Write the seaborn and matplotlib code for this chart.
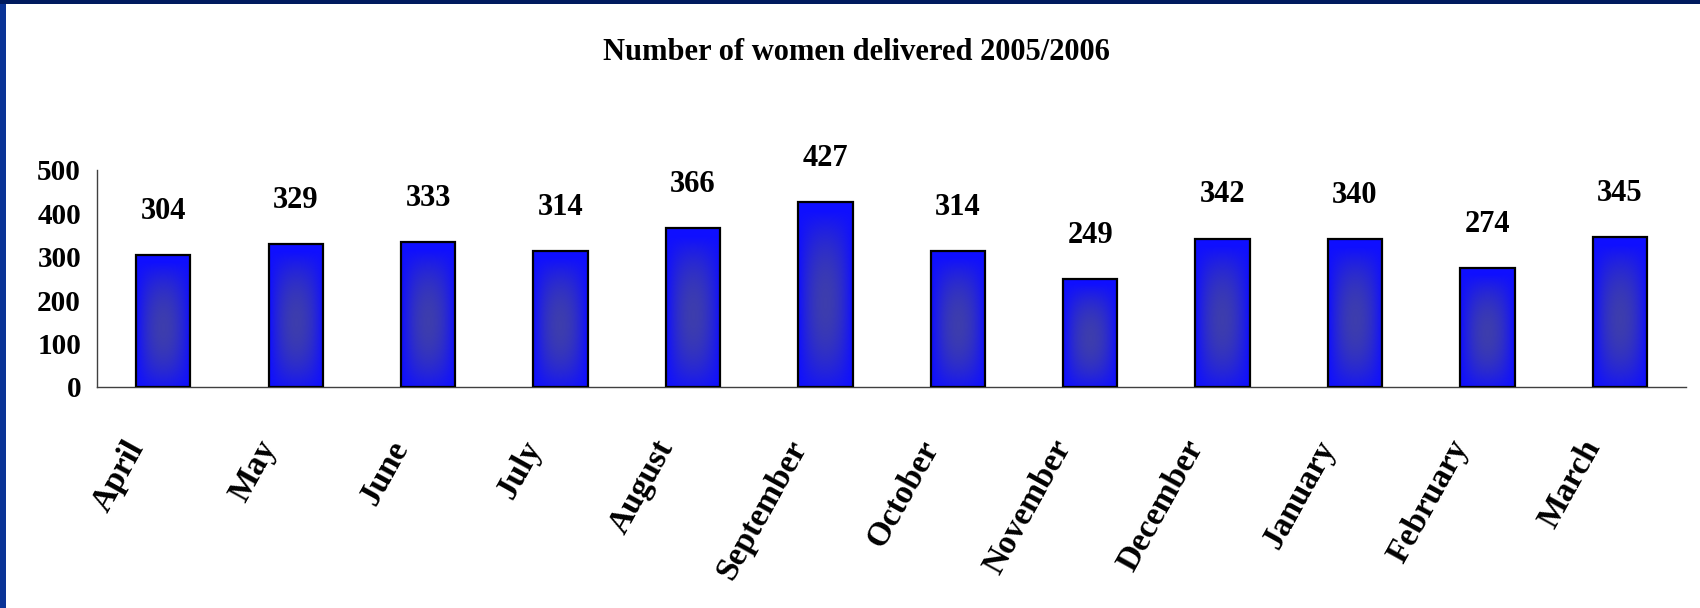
import numpy as np
import pandas as pd
import matplotlib
matplotlib.use("Agg")
import matplotlib.pyplot as plt
from matplotlib.patches import Rectangle
from matplotlib.transforms import ScaledTranslation
import seaborn as sns

months = ["April", "May", "June", "July", "August", "September",
          "October", "November", "December", "January", "February", "March"]
delivered = [304, 329, 333, 314, 366, 427, 314, 249, 342, 340, 274, 345]
y_ticks = [0, 100, 200, 300, 400, 500]
title = "Number of women delivered 2005/2006"

sns.set_style("white")
plt.rcParams['font.family'] = ['Liberation Serif', 'DejaVu Serif']
plt.rcParams['font.weight'] = 'bold'
plt.rcParams['text.color'] = 'black'
plt.rcParams['xtick.labelcolor'] = 'black'
plt.rcParams['ytick.labelcolor'] = 'black'

df = pd.DataFrame({'Month': months, 'Women': delivered})

fig = plt.figure(figsize=(17, 6.08), dpi=100, facecolor='white')
# slide frame: blue strip on the left, dark strip on top
fig.patches.append(Rectangle((0, 0), 6/1700, 1, transform=fig.transFigure,
                             facecolor='#0a3396', edgecolor='none', zorder=0))
fig.patches.append(Rectangle((0, 1-4/608), 1, 4/608, transform=fig.transFigure,
                             facecolor='#001a5e', edgecolor='none', zorder=0))

ax = fig.add_axes([0.0571, 0.3635, 0.9347, 0.3569])
sns.barplot(data=df, x='Month', y='Women', color='#1010ff', width=0.41,
            edgecolor='black', linewidth=1.6, ax=ax)

# gradient fill: bright blue at the edges, duller in the middle
gx, gy = np.meshgrid(np.linspace(-1, 1, 60), np.linspace(-1, 1, 120))
w = (1 - gx**2) * (1 - (gy + 0.1)**2)
w = np.clip(w, 0, 1)
edge_c = np.array([0.06, 0.06, 1.0])
mid_c = np.array([0.24, 0.24, 0.68])
grad = edge_c + w[..., None] * (mid_c - edge_c)
for p in list(ax.patches):
    x0, y0 = p.get_x(), p.get_y()
    bw, bh = p.get_width(), p.get_height()
    im = ax.imshow(grad, extent=(x0, x0 + bw, y0, y0 + bh), aspect='auto',
                   origin='lower', zorder=2, interpolation='bilinear')
    im.set_clip_path(p)
    p.set_facecolor('none')
    p.set_zorder(3)

for i, v in enumerate(delivered):
    ax.annotate(str(v), (i, v), xytext=(0, 21), textcoords='offset points',
                ha='center', va='bottom', fontsize=22, fontweight='bold',
                annotation_clip=False)

ax.set_xlim(-0.5, len(months) - 0.5)
ax.set_ylim(0, 500)
ax.set_yticks(y_ticks)
ax.set_yticklabels([str(t) for t in y_ticks], fontsize=21, fontweight='bold')
ax.set_xticks(range(len(months)))
ax.set_xticklabels(months, rotation=61, ha='right', va='center',
                   rotation_mode='anchor', fontsize=24, fontweight='bold')
ax.set_xticks(np.arange(-0.5, len(months)), minor=True)
ax.tick_params(axis='x', which='major', length=0, pad=40)
ax.tick_params(axis='x', which='minor', length=7, width=1, color='#404040', direction='out')
ax.tick_params(axis='y', length=6.5, width=1, color='#404040', direction='out', pad=5)
# nudge month labels left so their ends sit just left of the bar centres
shift = ScaledTranslation(-19/72, 0, fig.dpi_scale_trans)
for lab in ax.get_xticklabels():
    lab.set_transform(lab.get_transform() + shift)
ax.set_xlabel('')
ax.set_ylabel('')

for s in ['top', 'right']:
    ax.spines[s].set_visible(False)
for s in ['left', 'bottom']:
    ax.spines[s].set_color('#404040')
    ax.spines[s].set_linewidth(1)

fig.text(0.504, 0.914, title, ha='center', va='center', fontsize=22, fontweight='bold')

fig.savefig('out.png', dpi=100, facecolor=fig.get_facecolor())
